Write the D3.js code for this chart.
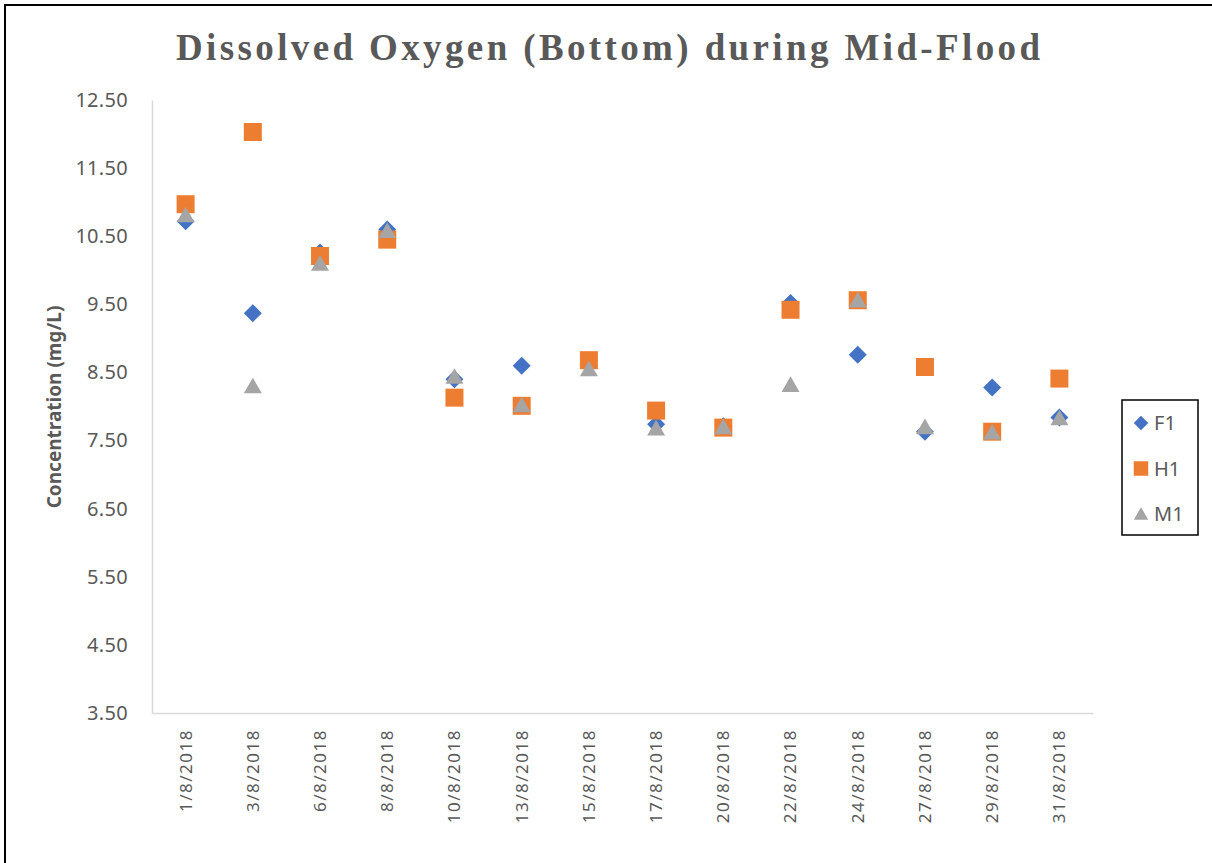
<!DOCTYPE html>
<html>
<head>
<meta charset="utf-8">
<script src="https://cdn.jsdelivr.net/npm/d3@7"></script>
<style>
  body { margin: 0; background: #fff; }
  text { font-family: "Noto Sans", sans-serif; fill: #595959; }
</style>
</head>
<body>
<script>
let dates = ["1/8/2018", "3/8/2018", "6/8/2018", "8/8/2018", "10/8/2018", "13/8/2018", "15/8/2018",
             "17/8/2018", "20/8/2018", "22/8/2018", "24/8/2018", "27/8/2018", "29/8/2018", "31/8/2018"];
let f1 = [10.72, 9.37, 10.26, 10.60, 8.40, 8.60, 8.68, 7.74, 7.71, 9.52, 8.76, 7.63, 8.28, 7.84];
let h1 = [10.97, 12.03, 10.21, 10.45, 8.13, 8.01, 8.68, 7.94, 7.69, 9.42, 9.56, 8.58, 7.63, 8.41];
let m1 = [10.81, 8.30, 10.10, 10.58, 8.44, 8.02, 8.55, 7.68, 7.70, 8.32, 9.56, 7.70, 7.62, 7.83];
let seriesNames = ["F1", "H1", "M1"];
let yTicks = [3.5, 4.5, 5.5, 6.5, 7.5, 8.5, 9.5, 10.5, 11.5, 12.5];

let w = 1212, h = 863;
let plotLeft = 152, plotRight = 1093, plotTop = 100, plotBottom = 713;

let colors = {F1: "#4472C4", H1: "#ED7D31", M1: "#A5A5A5"};
let values = {F1: f1, H1: h1, M1: m1};

// excel-ish marker shapes
function marker(name, s) {
  if (name == "F1") return d3.symbol().type(d3.symbolSquare).size(s * s / 2)();
  if (name == "H1") return d3.symbol().type(d3.symbolSquare).size(s * s)();
  return d3.symbol().type(d3.symbolTriangle).size(Math.sqrt(3) / 4 * s * s)();
}

var svg = d3.select("body").append("svg").attr("width", w).attr("height", h);

svg.append("rect").attr("x", 5).attr("y", 5).attr("width", w + 20).attr("height", h + 20)
  .attr("fill", "#fff").attr("stroke", "#000").attr("stroke-width", 2);

let x = d3.scaleBand().domain(dates).range([plotLeft, plotRight]);
let y = d3.scaleLinear().domain([3.5, 12.5]).range([plotBottom, plotTop]);

// title
svg.append("text")
  .attr("x", 608).attr("y", 60)
  .attr("text-anchor", "middle")
  .attr("textLength", 864).attr("lengthAdjust", "spacing")
  .style("font-family", "'Liberation Serif', serif")
  .style("font-weight", "bold")
  .style("font-size", "37px")
  .text("Dissolved Oxygen (Bottom) during Mid-Flood");

// y axis
let yAxis = svg.append("g").attr("transform", "translate(" + plotLeft + ",0)")
  .call(d3.axisLeft(y).tickValues(yTicks).tickFormat(d3.format(".2f")).tickSize(0).tickPadding(24));
yAxis.select(".domain").attr("stroke", "#D9D9D9").attr("stroke-width", 1.5);
yAxis.selectAll("text").style("font-size", "20px").style("letter-spacing", "0.3px").style("fill", "#595959");

// x axis
let xAxis = svg.append("g").attr("transform", "translate(0," + plotBottom + ")")
  .call(d3.axisBottom(x).tickSize(0).tickSizeOuter(0));
xAxis.select(".domain").attr("stroke", "#D9D9D9").attr("stroke-width", 1.5);
xAxis.selectAll("text")
  .attr("transform", "rotate(-90)")
  .attr("x", -16).attr("y", 0).attr("dy", "0.35em")
  .attr("text-anchor", "end")
  .style("font-size", "17px")
  .style("letter-spacing", "1.5px")
  .style("fill", "#595959");

svg.append("text")
  .attr("transform", "translate(61,407) rotate(-90)")
  .attr("text-anchor", "middle")
  .style("font-size", "19px").style("font-weight", "bold")
  .text("Concentration (mg/L)");

// points
seriesNames.forEach(function(name) {
  svg.append("g").selectAll("path").data(values[name]).enter().append("path")
    .attr("d", marker(name, 18))
    .attr("transform", function(d, i) {
      let t = "translate(" + (x(dates[i]) + x.bandwidth() / 2) + "," + y(d) + ")";
      if (name == "F1") t += " rotate(45)";
      if (name == "M1") t += " translate(0,2)";
      return t;
    })
    .attr("fill", colors[name]);
});

// legend
let legend = svg.append("g");
legend.append("rect").attr("x", 1122).attr("y", 400).attr("width", 76).attr("height", 135)
  .attr("fill", "#fff").attr("stroke", "#000").attr("stroke-width", 1.5);
seriesNames.forEach(function(name, i) {
  let ly = 423 + i * 45.5;
  legend.append("path")
    .attr("d", marker(name, 14.5))
    .attr("transform", "translate(1141," + ly + ")" + (name == "F1" ? " rotate(45)" : name == "M1" ? " translate(0,1.5)" : ""))
    .attr("fill", colors[name]);
  legend.append("text").attr("x", 1154).attr("y", ly).attr("dy", "0.36em")
    .style("font-size", "20px").text(name);
});
</script>
</body>
</html>
